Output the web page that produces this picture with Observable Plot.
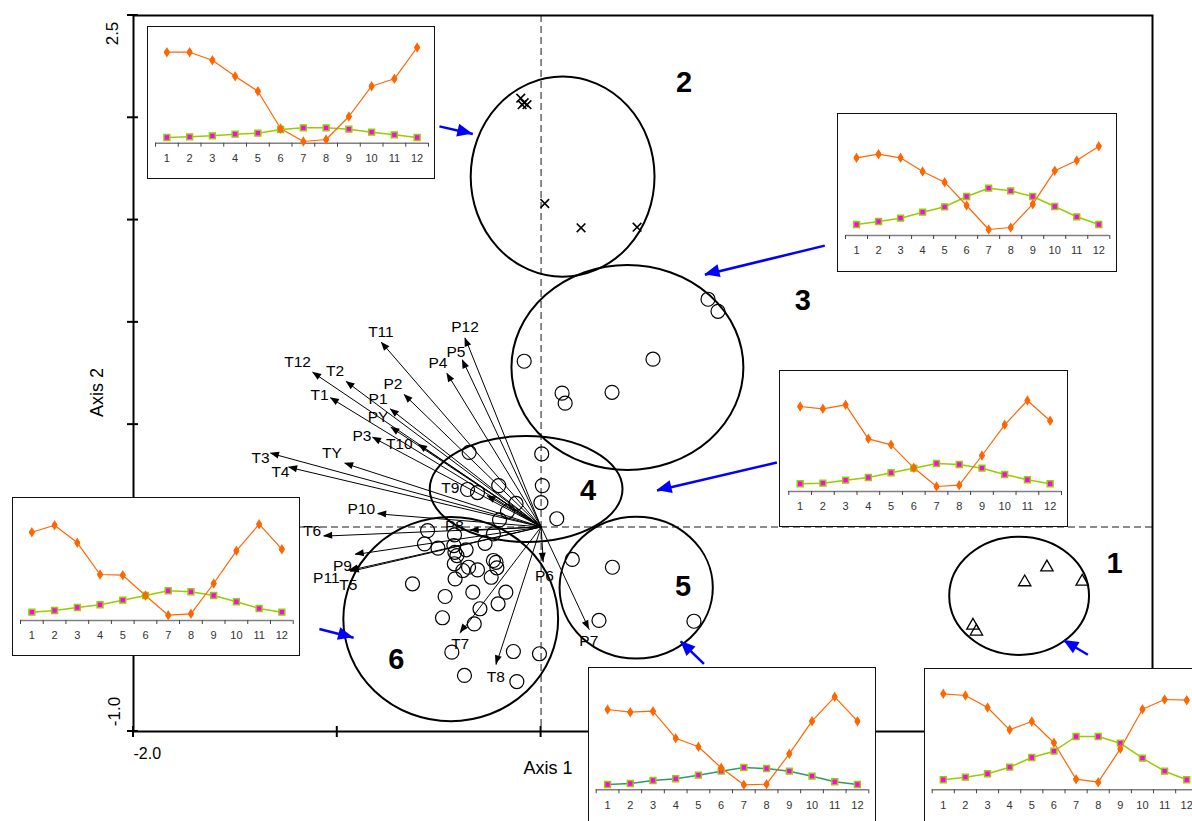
<!DOCTYPE html>
<html><head><meta charset="utf-8">
<script src="https://cdn.jsdelivr.net/npm/d3@7"></script>
<script src="https://cdn.jsdelivr.net/npm/@observablehq/plot@0.6"></script>
<style>
html,body{margin:0;padding:0;overflow:hidden;background:#fff;}
#wrap{position:relative;width:1192px;height:821px;overflow:hidden;}
.inset{position:absolute;background:#fff;outline:1.5px solid #111;outline-offset:-1.5px;}
.inset svg{display:block;}
</style></head><body><div id="wrap"></div>
<script>
// ---------- ordination data ----------
const cluster1Pts = [[2.373,-0.270],[2.482,-0.197],[2.655,-0.267],[2.119,-0.482],[2.136,-0.511]];
const cluster2Pts = [[-0.100,2.096],[-0.093,2.064],[-0.069,2.064],[-0.083,2.074],[0.018,1.581],[0.196,1.462],[0.471,1.465]];
const cluster3Pts = [[0.819,1.113],[0.868,1.054],[-0.083,0.810],[0.103,0.654],[0.118,0.605],[0.348,0.658],[0.549,0.820]];
const cluster4Pts = [[-0.353,0.364],[0.003,0.357],[0.006,0.202],[-0.208,0.202],[-0.361,0.183],[-0.312,0.168],[-0.001,0.119],[-0.123,0.115],[0.077,0.040],[-0.165,0.075],[-0.204,0.034]];
const cluster5Pts = [[0.153,-0.159],[0.350,-0.197],[0.284,-0.457],[0.750,-0.461]];
const cluster6Pts = [[-0.557,-0.018],[-0.425,-0.039],[-0.572,-0.083],[-0.506,-0.104],[-0.428,-0.091],[-0.423,-0.124],[-0.368,-0.112],[-0.275,-0.080],[-0.234,-0.034],[-0.413,-0.140],[-0.426,-0.180],[-0.356,-0.197],[-0.312,-0.210],[-0.234,-0.164],[-0.217,-0.200],[-0.245,-0.246],[-0.384,-0.213],[-0.422,-0.254],[-0.631,-0.278],[-0.335,-0.319],[-0.173,-0.319],[-0.471,-0.340],[-0.211,-0.376],[-0.300,-0.400],[-0.484,-0.444],[-0.328,-0.474],[-0.438,-0.612],[-0.136,-0.609],[-0.008,-0.620],[-0.376,-0.726],[-0.119,-0.756],[-0.221,-0.173]];

const varNames = ["T11","P12","P5","P4","T12","T2","P2","T1","P1","PY","T10","P3","T3","TY","T4","T9","P10","P8","T6","P9","P11","T5","P6","P7","T7","T8"];
const varX = [-0.784,-0.373,-0.386,-0.462,-1.121,-0.957,-0.672,-1.034,-0.740,-0.737,-0.601,-0.827,-1.328,-0.964,-1.239,-0.265,-0.802,-0.348,-1.067,-0.912,-0.941,-0.936,0.011,0.237,-0.397,-0.221];
const varY = [0.903,0.924,0.817,0.751,0.756,0.711,0.647,0.631,0.577,0.487,0.403,0.438,0.360,0.311,0.292,0.153,0.064,-0.018,-0.045,-0.135,-0.213,-0.218,-0.173,-0.503,-0.520,-0.674];
const varLabelX = [-0.786,-0.373,-0.418,-0.506,-1.195,-1.011,-0.727,-1.087,-0.800,-0.800,-0.696,-0.879,-1.377,-1.026,-1.279,-0.446,-0.882,-0.425,-1.124,-0.975,-1.054,-0.946,0.016,0.234,-0.397,-0.222];
const varLabelY = [0.952,0.979,0.854,0.800,0.805,0.764,0.699,0.647,0.626,0.536,0.406,0.442,0.338,0.360,0.267,0.190,0.088,0.003,-0.021,-0.191,-0.252,-0.282,-0.238,-0.559,-0.571,-0.735];

const clusterIds = ["1","2","3","4","5","6"];
const clusterLabelX = [2.814, 0.701, 1.284, 0.230, 0.696, -0.711];
const clusterLabelY = [-0.179, 2.173, 1.107, 0.178, -0.291, -0.648];
const ellCx = [2.348, 0.108, 0.426, -0.071, 0.469, -0.441];
const ellCy = [-0.339, 1.710, 0.777, 0.183, -0.299, -0.453];
const ellRx = [0.343, 0.451, 0.569, 0.473, 0.376, 0.527];
const ellRy = [0.289, 0.489, 0.501, 0.259, 0.346, 0.499];

const pointerFromX = [2.683, -0.499, 1.392, 1.157, 0.799, -1.088];
const pointerFromY = [-0.625, 1.958, 1.375, 0.315, -0.669, -0.499];
const pointerToX = [2.565, -0.335, 0.804, 0.569, 0.685, -0.920];
const pointerToY = [-0.555, 1.921, 1.233, 0.178, -0.559, -0.542];

const xTicks = [-2, -1, 0, 1, 2, 3];
const yTicks = [-1, -0.5, 0, 0.5, 1, 1.5, 2, 2.5];

// ---------- climate insets (relative units) ----------
const months = [1,2,3,4,5,6,7,8,9,10,11,12];
const precip1 = [96, 94.3, 82.3, 60, 68.3, 47, 10.6, 7.6, 41, 80.6, 90.3, 89.6];
const temp1   = [10, 12.6, 16, 22.6, 32.3, 38.6, 53.3, 53.3, 46.6, 31.6, 18.6, 10];
const precip2 = [91, 91, 83, 67, 52, 14.7, 1.7, 3.7, 26.7, 57, 64.4, 95.7];
const temp2   = [5.7, 6.4, 7.4, 9, 10, 13.7, 15.4, 15.4, 14, 11, 8.4, 5.7];
const precip3 = [77.7, 81.3, 77.7, 64, 53.3, 30, 6, 8, 31.3, 64.7, 75, 89.3];
const temp3   = [11, 14, 17.3, 23.3, 28.7, 39, 47.3, 44.7, 39, 29, 18.7, 11];
const precip4 = [85, 82.7, 86.7, 52.7, 46.7, 23.7, 5, 6.3, 36, 66.7, 91, 70.7];
const temp4   = [7.7, 8.3, 11.3, 14, 18.7, 23.3, 28, 27, 23.3, 17, 11.7, 7.7];
const precip5 = [80.3, 77.6, 78.6, 51.6, 43, 22, 5, 5.6, 36, 68.6, 93, 68.6];
const temp5   = [5.3, 6.3, 9.3, 11, 14.6, 18.6, 22.3, 21.3, 18.6, 13.6, 8, 5.3];
const precip6 = [88.3, 95.3, 77.7, 46, 45.3, 25, 5.3, 6.7, 37, 69.7, 96.3, 71.3];
const temp6   = [8.3, 10, 13, 15.7, 20.3, 25, 29.7, 28.7, 25, 18.7, 12, 8.3];

// ---------- build tables ----------
const pts = (arr) => arr.map(([x, y]) => ({x, y}));
const vars = varNames.map((n, i) => ({n, x1: 0, y1: 0, x2: varX[i], y2: varY[i], lx: varLabelX[i], ly: varLabelY[i]}));
const clusters = clusterIds.map((id, i) => ({id, lx: clusterLabelX[i], ly: clusterLabelY[i], cx: ellCx[i], cy: ellCy[i], rx: ellRx[i], ry: ellRy[i]}));
const pointers = pointerFromX.map((v, i) => ({x1: v, y1: pointerFromY[i], x2: pointerToX[i], y2: pointerToY[i]}));

const FONT = "'Liberation Sans', Arial, Helvetica, sans-serif";

const ellipseMark = (index, scales) => {
  const {x, y} = scales;
  const g = d3.create("svg:g").attr("fill", "none").attr("stroke", "black").attr("stroke-width", 2);
  clusters.forEach(c => {
    g.append("ellipse")
      .attr("cx", x(c.cx)).attr("cy", y(c.cy))
      .attr("rx", Math.abs(x(c.cx + c.rx) - x(c.cx)))
      .attr("ry", Math.abs(y(c.cy + c.ry) - y(c.cy)));
  });
  return g.node();
};

// filled arrow heads, placed through the plot's scales
const headMark = (rows, color, len, half) => (index, scales) => {
  const {x, y} = scales;
  const g = d3.create("svg:g").attr("fill", color).attr("stroke", "none");
  rows.forEach(r => {
    const X1 = x(r.x1), Y1 = y(r.y1), X2 = x(r.x2), Y2 = y(r.y2);
    const a = Math.atan2(Y2 - Y1, X2 - X1), c = Math.cos(a), s = Math.sin(a);
    const bx = X2 - len * c, by = Y2 - len * s;
    g.append("path").attr("d",
      `M${X2},${Y2}L${bx - half * s},${by + half * c}L${bx + half * s},${by - half * c}Z`);
  });
  return g.node();
};

const tickMark = (index, scales) => {
  const {x, y} = scales;
  const g = d3.create("svg:g").attr("stroke", "black").attr("stroke-width", 2);
  xTicks.forEach(v => g.append("line").attr("x1", x(v)).attr("x2", x(v)).attr("y1", y(-1) - 5).attr("y2", y(-1) + 6));
  yTicks.forEach(v => g.append("line").attr("y1", y(v)).attr("y2", y(v)).attr("x1", x(-2) - 6).attr("x2", x(-2) + 5));
  return g.node();
};

const main = Plot.plot({
  width: 1192, height: 821,
  marginLeft: 133, marginRight: 40, marginTop: 15, marginBottom: 90,
  x: {domain: [-2, 3], axis: null},
  y: {domain: [-1, 2.5], axis: null},
  style: {fontFamily: FONT, background: "white", color: "black"},
  marks: [
    Plot.ruleX([0], {stroke: "#666", strokeWidth: 1.5, strokeDasharray: "7,4"}),
    Plot.ruleY([0], {stroke: "#666", strokeWidth: 1.5, strokeDasharray: "7,4"}),
    Plot.frame({stroke: "black", strokeWidth: 2}),
    ellipseMark,
    Plot.link(vars, {x1: "x1", y1: "y1", x2: "x2", y2: "y2", stroke: "black", strokeWidth: 1}),
    headMark(vars, "black", 9, 3.5),
    Plot.dot(pts(cluster3Pts).concat(pts(cluster4Pts), pts(cluster5Pts), pts(cluster6Pts)), {x: "x", y: "y", r: 7, stroke: "black", strokeWidth: 1.2, fill: "none"}),
    Plot.dot(pts(cluster2Pts), {x: "x", y: "y", symbol: "times", r: 4, stroke: "black", strokeWidth: 1.6}),
    Plot.dot(pts(cluster1Pts), {x: "x", y: "y", symbol: "triangle", r: 4.6, stroke: "black", strokeWidth: 1.3, fill: "none"}),
    Plot.text(vars, {x: "lx", y: "ly", text: "n", fontSize: 15.5, fill: "black"}),
    Plot.text(clusters, {x: "lx", y: "ly", text: "id", fontSize: 29, fontWeight: "bold", fill: "black"}),
    Plot.link(pointers, {x1: "x1", y1: "y1", x2: "x2", y2: "y2", stroke: "#0000ff", strokeWidth: 2.5}),
    headMark(pointers, "#0000ff", 15, 6.5),
    tickMark,
    Plot.text(["-2.0"], {x: -2, y: -1, text: d => d, textAnchor: "start", dy: 22, fontSize: 16}),
    Plot.text(["Axis 1"], {x: 0, y: -1, text: d => d, dx: 7, dy: 37, fontSize: 18}),
    Plot.text(["2.5"], {x: -2, y: 2.5, text: d => d, rotate: -90, dx: -21, dy: 18, fontSize: 17}),
    Plot.text(["-1.0"], {x: -2, y: -1, text: d => d, rotate: -90, dx: -19, dy: -20, fontSize: 17}),
    Plot.text(["Axis 2"], {x: -2, y: 0.657, text: d => d, rotate: -90, dx: -36, fontSize: 18})
  ]
});

const wrap = document.getElementById("wrap");
wrap.appendChild(main);

// ---------- insets ----------
function inset(box, precip, temp, tempColor) {
  const data = months.map((m, i) => ({m, p: precip[i], t: temp[i]}));
  const div = document.createElement("div");
  div.className = "inset";
  div.style.left = box.left + "px";
  div.style.top = box.top + "px";
  div.style.width = box.w + "px";
  div.style.height = box.h + "px";
  const p = Plot.plot({
    width: box.w, height: box.h,
    marginLeft: box.t0, marginRight: box.w - box.t12,
    marginTop: box.axis - 100, marginBottom: box.h - box.axis,
    x: {domain: [0.5, 12.5], axis: null, label: null},
    y: {domain: [0, 100], axis: null, label: null},
    style: {fontFamily: FONT, background: "transparent", color: "#333"},
    marks: [
      Plot.ruleY([0], {stroke: "#808080", strokeWidth: 1.5}),
      Plot.axisX(d3.range(0.5, 13, 1), {tickSize: 4, tickFormat: () => "", stroke: "#444", label: null}),
      Plot.axisX(months, {tickSize: 0, tickPadding: 11, fontSize: 11, fill: "#333", label: null}),
      Plot.line(data, {x: "m", y: "t", stroke: tempColor, strokeWidth: 1.5}),
      Plot.line(data, {x: "m", y: "p", stroke: "#ff6600", strokeWidth: 1.2}),
      Plot.dot(data, {x: "m", y: "t", symbol: "square", r: 3.3, fill: "#ff00ff", stroke: "#99cc00", strokeWidth: 1.5}),
      Plot.dot(data, {x: "m", y: "p", symbol: "diamond", r: 3.2, fill: "#ff6600"}),
      Plot.dot(data, {x: "m", y: "p", r: 2.6, fill: "#ff6600"})
    ]
  });
  div.appendChild(p);
  wrap.appendChild(div);
}

inset({left: 147, top: 26, w: 288, h: 153, axis: 116.7, t0: 8, t12: 281}, precip2, temp2, "#99cc00");
inset({left: 837, top: 113, w: 280, h: 159, axis: 122, t0: 8, t12: 272.3}, precip3, temp3, "#99cc00");
inset({left: 779, top: 370, w: 289, h: 157, axis: 121, t0: 9.3, t12: 282}, precip4, temp4, "#99cc00");
inset({left: 12, top: 497, w: 288, h: 159, axis: 123, t0: 8, t12: 280.7}, precip6, temp6, "#99cc00");
inset({left: 588, top: 667, w: 288, h: 170, axis: 122.3, t0: 7.7, t12: 280.3}, precip5, temp5, "#339966");
inset({left: 924, top: 668, w: 280, h: 170, axis: 121.3, t0: 7.7, t12: 273.3}, precip1, temp1, "#99cc00");
</script></body></html>
